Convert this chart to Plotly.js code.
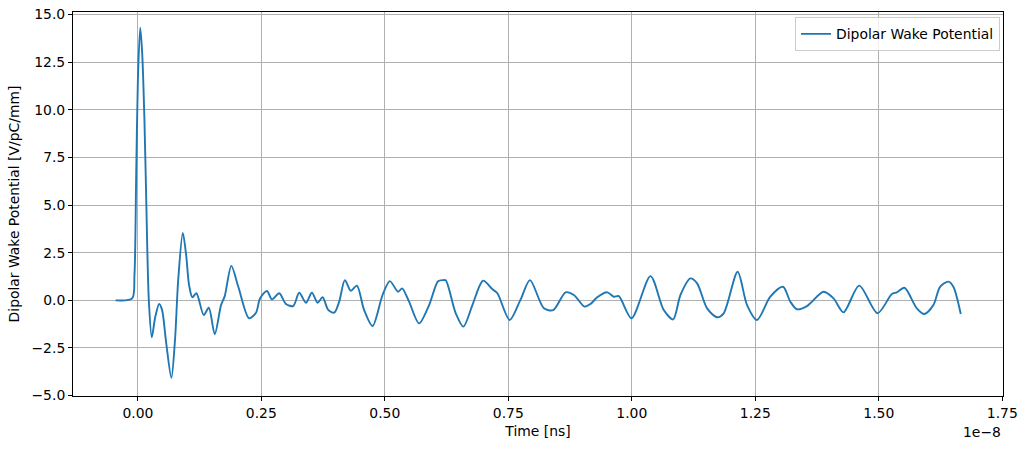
<!DOCTYPE html>
<html>
<head>
<meta charset="utf-8">
<script src="https://cdn.plot.ly/plotly-3.0.1.min.js"></script>
<style>html,body{margin:0;padding:0;background:#fff;}#chart{width:1027px;height:449px;}</style>
</head>
<body>
<div id="chart"></div>
<script>
// Time in units of 1e-8 s (axis shows offset 1e-8)
const time = [
  -0.045, -0.0115, -0.0069, -0.0034, 0.0, 0.0047, 0.0087, 0.0133, 0.0168, 0.0222,
  0.0283, 0.035, 0.0431, 0.049, 0.0572, 0.0679, 0.0754, 0.0815, 0.091, 0.0977,
  0.1037, 0.1104, 0.1185, 0.1334, 0.1436, 0.1557, 0.1684, 0.1759, 0.1892, 0.2034,
  0.225, 0.2392, 0.2473, 0.2614, 0.2715, 0.2863, 0.2998, 0.3146, 0.3267, 0.3403,
  0.3524, 0.3639, 0.374, 0.3854, 0.3975, 0.4076, 0.4191, 0.4313, 0.4434, 0.4581,
  0.4751, 0.4954, 0.5101, 0.5269, 0.535, 0.5491, 0.5693, 0.5896, 0.6078, 0.6179,
  0.6233, 0.6436, 0.6591, 0.6773, 0.6988, 0.7178, 0.7279, 0.7527, 0.775, 0.7938,
  0.8221, 0.8411, 0.866, 0.8827, 0.9044, 0.9165, 0.93, 0.9503, 0.9636, 0.9737,
  0.9994, 1.0378, 1.0647, 1.0837, 1.0985, 1.1187, 1.1322, 1.1524, 1.1727, 1.186,
  1.2143, 1.2333, 1.2535, 1.2804, 1.3061, 1.3209, 1.3344, 1.3546, 1.3882, 1.4085,
  1.4286, 1.4604, 1.4974, 1.5265, 1.5366, 1.552, 1.577, 1.5924, 1.6106, 1.6241,
  1.6409, 1.651, 1.666
];
const wake = [
  0.0, 0.1, 1.3, 6.5, 11.5, 14.3, 13.0, 9.5, 5.5, 0.0,
  -1.94, -0.9, -0.19, -0.5, -2.2, -4.07, -2.0, 1.0, 3.54, 2.4,
  0.8, 0.16, 0.37, -0.77, -0.39, -1.78, -0.25, 0.22, 1.81, 0.71,
  -0.94, -0.65, 0.1, 0.49, 0.05, 0.37, -0.19, -0.3, 0.4, -0.13,
  0.4, -0.13, 0.16, -0.5, -0.65, -0.07, 1.06, 0.5, 0.77, -0.51,
  -1.35, 0.28, 1.01, 0.45, 0.63, -0.07, -1.21, -0.25, 1.0, 1.06,
  1.05, -0.68, -1.38, -0.25, 1.03, 0.58, 0.37, -1.03, 0.05, 1.06,
  -0.42, -0.51, 0.42, 0.28, -0.33, -0.19, 0.16, 0.42, 0.19, 0.22,
  -0.94, 1.27, -0.51, -1.0, 0.28, 1.15, 0.89, -0.42, -0.89, -0.68,
  1.5, -0.25, -1.03, 0.19, 0.71, -0.07, -0.47, -0.3, 0.45, 0.1,
  -0.63, 0.77, -0.68, 0.33, 0.42, 0.66, -0.42, -0.72, -0.25, 0.71,
  0.98, 0.71, -0.72
];
const xTicks = [0, 0.25, 0.5, 0.75, 1.0, 1.25, 1.5, 1.75];
const yTicks = [-5, -2.5, 0, 2.5, 5, 7.5, 10, 12.5, 15];

const font = {family: 'DejaVu Sans, sans-serif', size: 13.9, color: '#000'};
const axisCommon = {
  showline: true, linecolor: '#000', linewidth: 1, mirror: true,
  ticks: 'outside', ticklen: 4, tickwidth: 1, tickcolor: '#000',
  showgrid: true, gridcolor: '#b0b0b0', gridwidth: 0.8,
  zeroline: false, tickfont: font, automargin: false
};

Plotly.newPlot('chart', [{
  x: time, y: wake, type: 'scatter', mode: 'lines',
  name: 'Dipolar Wake Potential',
  line: {color: '#1f77b4', width: 1.9, shape: 'spline', smoothing: 0.8}
}], {
  width: 1027, height: 449,
  paper_bgcolor: '#fff', plot_bgcolor: '#fff',
  margin: {l: 73, r: 24, t: 12, b: 53},
  font: font,
  xaxis: Object.assign({}, axisCommon, {
    range: [-0.1313, 1.7515], tickvals: xTicks, tickformat: '.2f',
    title: {text: 'Time [ns]', font: font, standoff: 6}
  }),
  yaxis: Object.assign({}, axisCommon, {
    range: [-5.02, 15.13], tickvals: yTicks, tickformat: '.1f',
    title: {text: 'Dipolar Wake Potential [V/pC/mm]', font: font, standoff: 8}
  }),
  showlegend: true,
  legend: {
    x: 0.9968, y: 0.986, xanchor: 'right', yanchor: 'top',
    bgcolor: 'rgba(255,255,255,0.8)', bordercolor: '#cccccc', borderwidth: 1,
    font: font
  },
  annotations: [{
    text: '1e\u22128', xref: 'paper', yref: 'paper', x: 1, y: 0,
    xanchor: 'right', yanchor: 'top', yshift: -26, showarrow: false, font: font
  }]
}, {displayModeBar: false});
</script>
</body>
</html>
